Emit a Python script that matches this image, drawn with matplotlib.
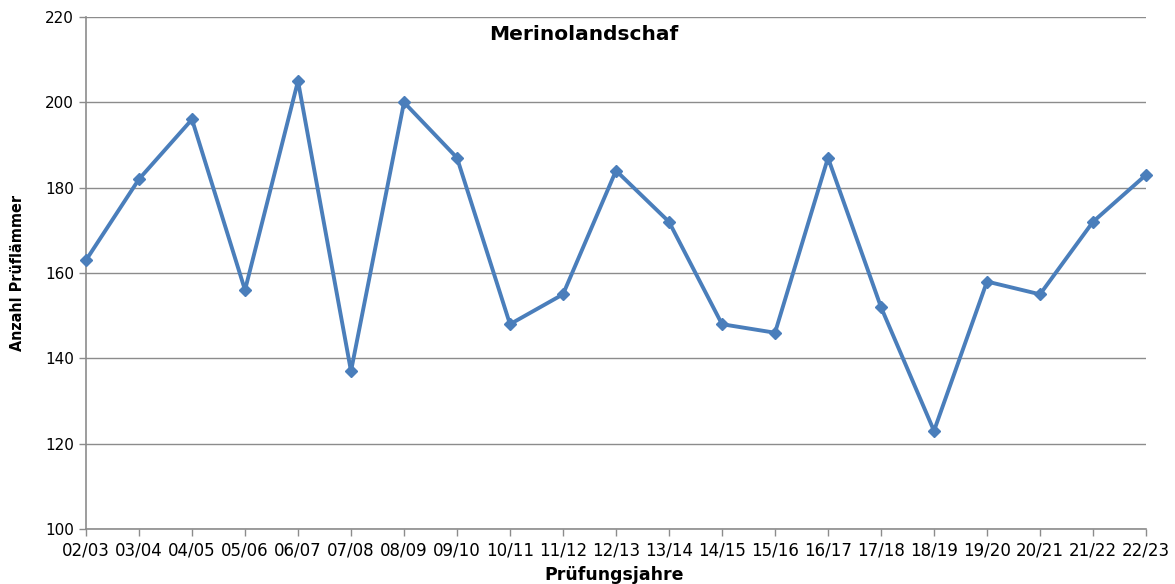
import matplotlib
matplotlib.use("Agg")
import matplotlib.pyplot as plt
from matplotlib import font_manager

years = ["02/03", "03/04", "04/05", "05/06", "06/07", "07/08", "08/09", "09/10", "10/11",
         "11/12", "12/13", "13/14", "14/15", "15/16", "16/17", "17/18", "18/19", "19/20",
         "20/21", "21/22", "22/23"]
counts = [163, 182, 196, 156, 205, 137, 200, 187, 148, 155, 184, 172, 148, 146, 187, 152,
          123, 158, 155, 172, 183]
y_ticks = [100, 120, 140, 160, 180, 200, 220]

fig = plt.figure(figsize=(11.75, 5.84), dpi=100)
ax = fig.add_axes([86/1175, 55/584, (1146-86)/1175, (529-17)/584])

x = list(range(len(years)))
ax.plot(x, counts, color="#4A7EBB", lw=2.8, marker="D", ms=6.5, zorder=3, clip_on=False)

ax.set_xlim(0, len(years) - 1)
ax.set_ylim(100, 220)
ax.set_yticks(y_ticks)
ax.set_xticks(x)
ax.set_xticklabels(years)
ax.grid(axis="y", color="#8c8c8c", lw=1)
ax.set_axisbelow(True)
for s in ["top", "right"]:
    ax.spines[s].set_visible(False)
for s in ["left", "bottom"]:
    ax.spines[s].set_color("#8c8c8c")
    ax.spines[s].set_linewidth(1.2)
ax.tick_params(axis="both", colors="#8c8c8c", labelcolor="black", length=5, width=1)
ax.tick_params(axis="y", labelsize=11)
ax.tick_params(axis="x", labelsize=12, pad=4)

ax.text(0.47, 0.985, "Merinolandschaf", transform=ax.transAxes, ha="center", va="top",
        fontsize=14.5, fontweight="bold")
fig.text(614/1175, 9/584, "Prüfungsjahre", ha="center", va="center", fontsize=12.5, fontweight="bold")

names = {f.name for f in font_manager.fontManager.ttflist}
narrow = "Liberation Sans Narrow" in names
fig.text(18/1175, 1 - 273/584, "Anzahl Prüflämmer", ha="center", va="center", rotation=90,
         fontsize=13 if narrow else 11.5, fontweight="bold",
         family=(["Liberation Sans Narrow", "DejaVu Sans"] if narrow else ["DejaVu Sans"]),
         fontstretch="condensed")

fig.savefig("out.png", dpi=100)
